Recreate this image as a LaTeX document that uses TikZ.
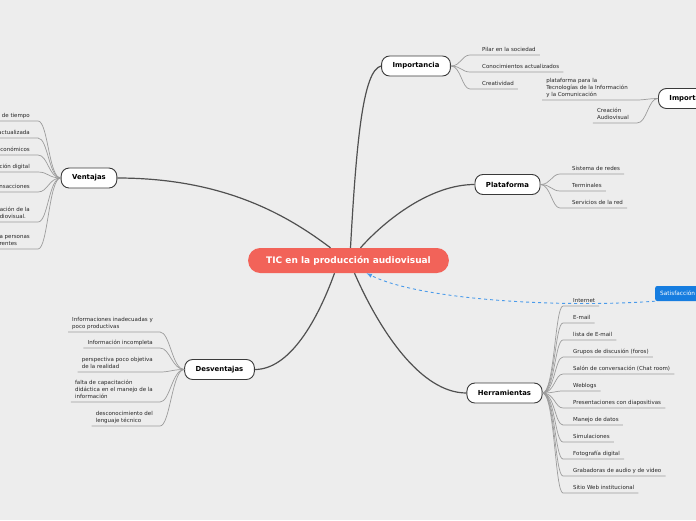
\documentclass[tikz,border=0pt]{standalone}
\usepackage{fontspec}
\setmainfont{DejaVu Sans}
\definecolor{fondo}{HTML}{EDEDED}
\definecolor{rojo}{HTML}{F26359}
\definecolor{azul}{HTML}{167DE0}
\definecolor{azulclaro}{HTML}{4B9BEA}
\definecolor{borde}{HTML}{3A3A3A}
\definecolor{gris}{HTML}{9C9C9C}
\definecolor{oscuro}{HTML}{505050}

\begin{document}
\begin{tikzpicture}[x=1pt, y=-1pt, font=\fontsize{5.5}{7}\selectfont]
    \tikzstyle{centro}=[fill=rojo, text=white, rounded corners=12pt, minimum height=25pt, inner xsep=18pt, font=\fontsize{9}{11}\selectfont\bfseries]
    \tikzstyle{tema}=[draw=borde, fill=white, line width=0.9pt, rounded corners=8pt, minimum height=20pt, inner xsep=11pt, font=\fontsize{6.9}{8}\selectfont\bfseries]
    \tikzstyle{nota}=[fill=azul, text=white, rounded corners=2pt, minimum height=15pt, inner xsep=5pt, font=\fontsize{5.8}{7}\selectfont]
    \tikzstyle{hoja}=[inner xsep=4pt, inner ysep=2.5pt, text depth=1.2pt, align=left, text=black!85]
    \tikzstyle{mrama}=[draw=oscuro, line width=1.2pt]
    \tikzstyle{lrama}=[draw=gris, line width=0.7pt]
    \tikzstyle{flecha}=[draw=azulclaro, line width=0.9pt, dashed, -latex]

    \fill[fondo] (0,0) rectangle (696,520);
    \useasboundingbox (0,0) rectangle (696,520);

    \node[centro] (tic) at (348.5,260.5) {TIC en la producción audiovisual};
    \node[tema] (vent) at (89,178) {Ventajas};
    \node[tema] (imp) at (416,66) {Importancia};
    \node[tema] (plat) at (507.5,184.5) {Plataforma};
    \node[tema] (herr) at (504.5,393) {Herramientas};
    \node[tema] (desv) at (219.5,369.5) {Desventajas};
    \node[tema, anchor=west] (imp2) at (658,98.5) {Importancia};
    \node[nota, anchor=west] (sat) at (655,293.5) {Satisfacción};

    % ramas principales
    \draw[mrama] ([xshift=-18]tic.north) .. controls +(-40,-30) and +(110,0) .. (vent.east);
    \draw[mrama] ([xshift=2]tic.north) .. controls +(6,-108) and +(-18,4) .. (imp.west);
    \draw[mrama] ([xshift=12]tic.north) .. controls +(25,-28) and +(-44,0) .. (plat.west);
    \draw[mrama] ([xshift=6]tic.south) .. controls +(25,57) and +(-46,0) .. (herr.west);
    \draw[mrama] ([xshift=-14]tic.south) .. controls +(-17,47) and +(35,0) .. (desv.east);

    \draw[flecha] (sat.south west) .. controls (560,308) and (420,300) .. ([xshift=18]tic.south);

    % Ventajas
    \foreach \t/\u [count=\i] in {de tiempo/121, actualizada/138, económicos/155, ción digital/172, nsacciones/192, {ación de la\\diovisual.}/222, {a personas\\rentes}/249} {
        \node[hoja, anchor=south east] (v\i) at (34,\u) {\t};
        \draw[lrama] (vent.west) .. controls +(-12,0) and +(10,0) .. ([xshift=4]v\i.south east) -- ([xshift=-12]v\i.south west);
    }

    % Desventajas
    \foreach \t/\u [count=\i] in {{Informaciones inadecuadas y\\poco productivas}/332, Información incompleta/348, {perspectiva poco objetiva\\de la realidad}/372, {falta de capacitación\\didáctica en el manejo de la\\información}/402, {desconocimiento del\\lenguaje técnico}/426} {
        \node[hoja, anchor=south east] (d\i) at (157,\u) {\t};
        \draw[lrama] (desv.west) .. controls +(-12,0) and +(10,0) .. ([xshift=3]d\i.south east) -- (d\i.south west);
    }

    % Importancia
    \foreach \t/\u [count=\i] in {Pilar en la sociedad/55, Conocimientos actualizados/72, Creatividad/89} {
        \node[hoja, anchor=south west] (i\i) at (478,\u) {\t};
        \draw[lrama] (imp.east) .. controls +(10,0) and +(-8,0) .. ([xshift=-8]i\i.south west) -- (i\i.south east);
    }

    \node[hoja, anchor=south east] (s1) at (632,100) {plataforma para la\\Tecnologías de la Información\\y la Comunicación};
    \node[hoja, anchor=south east] (s2) at (633,123) {Creación\\Audiovisual};
    \foreach \i in {s1, s2} {
        \draw[lrama] (imp2.west) .. controls +(-10,0) and +(10,0) .. ([xshift=4]\i.south east) -- (\i.south west);
    }

    % Plataforma
    \foreach \t/\u [count=\i] in {Sistema de redes/174, Terminales/191, Servicios de la red/208} {
        \node[hoja, anchor=south west] (p\i) at (568,\u) {\t};
        \draw[lrama] (plat.east) .. controls +(10,0) and +(-8,0) .. ([xshift=-8]p\i.south west) -- (p\i.south east);
    }

    % Herramientas
    \foreach \t [count=\i] in {Internet, E-mail, lista de E-mail, Grupos de discusión (foros), Salón de conversación (Chat room), Weblogs, Presentaciones con diapositivas, Manejo de datos, Simulaciones, Fotografía digital, Grabadoras de audio y de video, Sitio Web institucional} {
        \node[hoja, anchor=south west] (h\i) at (569,289+17*\i) {\t};
        \draw[lrama] (herr.east) .. controls +(12,0) and +(-8,0) .. ([xshift=-6]h\i.south west) -- (h\i.south east);
    }
\end{tikzpicture}
\end{document}
